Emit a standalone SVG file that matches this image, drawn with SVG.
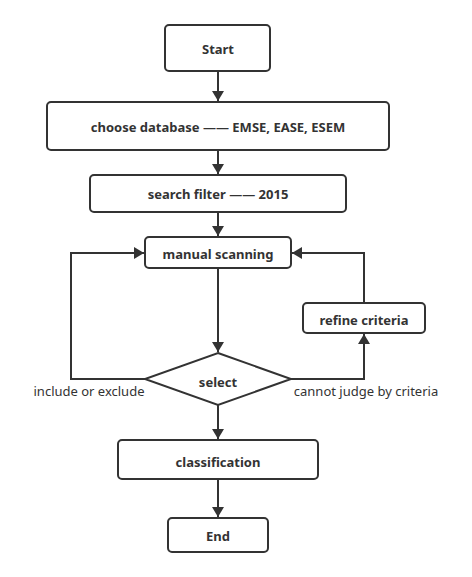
<svg xmlns="http://www.w3.org/2000/svg" width="472" height="577" viewBox="0 0 472 577">
<style>
.box{fill:#fff;stroke:#333;stroke-width:2}
.t{font-family:"Noto Sans","Open Sans",sans-serif;font-weight:bold;font-size:13px;fill:#333;text-anchor:middle;dominant-baseline:central}
.l{font-family:"Noto Sans","Open Sans",sans-serif;font-size:13px;fill:#333;text-anchor:middle;dominant-baseline:central}
.c{fill:none;stroke:#333;stroke-width:2}
</style>
<defs>
<marker id="ah" viewBox="0 0 10 12" refX="10" refY="6" markerWidth="6" markerHeight="6" markerUnits="strokeWidth" orient="auto">
<path d="M0,0 L10,6 L0,12 z" fill="#333"/>
</marker>
</defs>
<rect width="472" height="577" fill="#fff"/>
<g id="connectors">
<path class="c" d="M218,71 V101" marker-end="url(#ah)"/>
<path class="c" d="M218,150 V174" marker-end="url(#ah)"/>
<path class="c" d="M218,212 V236" marker-end="url(#ah)"/>
<path class="c" d="M218,268 V352" marker-end="url(#ah)"/>
<path class="c" d="M145,379 H71 V253 H144" marker-end="url(#ah)"/>
<path class="c" d="M291,379 H364 V334" marker-end="url(#ah)"/>
<path class="c" d="M364,302 V253 H292" marker-end="url(#ah)"/>
<path class="c" d="M218,405 V439" marker-end="url(#ah)"/>
<path class="c" d="M218,479 V517" marker-end="url(#ah)"/>
</g>
<g id="start"><rect class="box" x="165" y="25" width="105" height="46" rx="4"/><text class="t" x="218" y="49">Start</text></g>
<g id="choose"><rect class="box" x="47" y="102" width="342" height="48" rx="4"/><text class="t" x="218" y="127">choose database —— EMSE, EASE, ESEM</text></g>
<g id="search"><rect class="box" x="90" y="175" width="256" height="37" rx="4"/><text class="t" x="218" y="194">search filter —— 2015</text></g>
<g id="manual"><rect class="box" x="145" y="237" width="146" height="31" rx="4"/><text class="t" x="218" y="254">manual scanning</text></g>
<g id="select"><path class="box" d="M218,353 L291,379 L218,405 L145,379 Z"/><text class="t" x="218" y="382">select</text></g>
<g id="refine"><rect class="box" x="303" y="303" width="122" height="30" rx="4"/><text class="t" x="364" y="320">refine criteria</text></g>
<g id="classification"><rect class="box" x="118" y="440" width="200" height="39" rx="4"/><text class="t" x="218" y="462">classification</text></g>
<g id="end"><rect class="box" x="168" y="518" width="100" height="34" rx="4"/><text class="t" x="218" y="536">End</text></g>
<g id="labels">
<text class="l" x="89" y="391">include or exclude</text>
<text class="l" x="366" y="391">cannot judge by criteria</text>
</g>
</svg>
